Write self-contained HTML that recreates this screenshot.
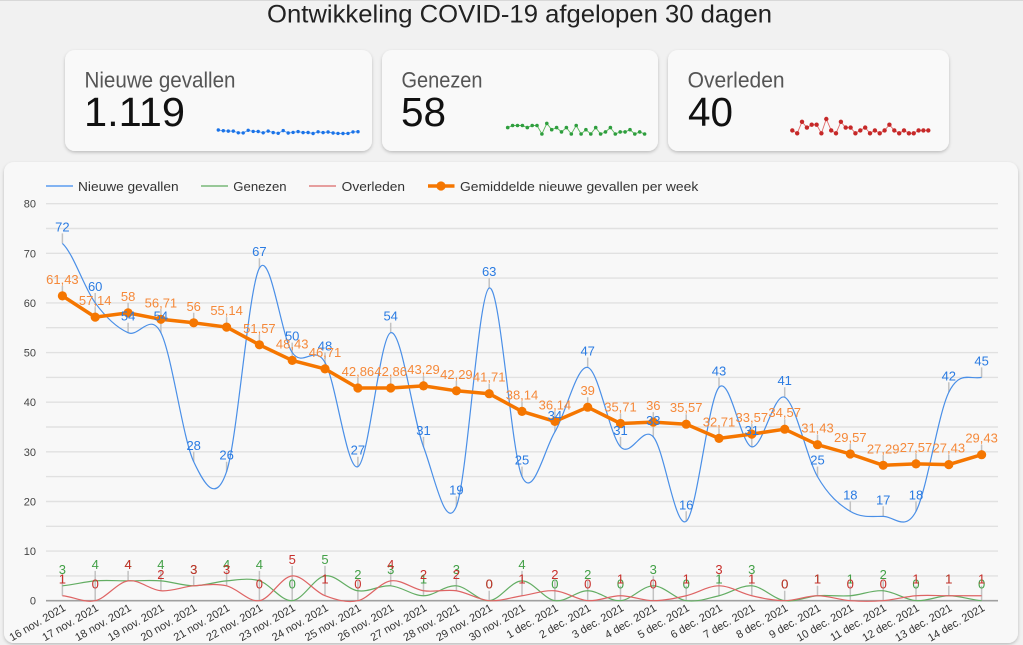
<!DOCTYPE html>
<html><head><meta charset="utf-8"><style>
html,body{margin:0;padding:0;background:#f1f1f1;}
svg{display:block;font-family:"Liberation Sans",sans-serif;}
</style></head><body>
<svg width="1023" height="645" viewBox="0 0 1023 645" xmlns="http://www.w3.org/2000/svg">
<defs>
<filter id="sh" x="-5%" y="-10%" width="110%" height="125%"><feDropShadow dx="0" dy="1.5" stdDeviation="1.5" flood-color="#000" flood-opacity="0.22"/></filter>
<marker id="mb" viewBox="-3 -3 6 6" markerWidth="6" markerHeight="6" markerUnits="userSpaceOnUse"><circle r="1.7" fill="#1a73e8"/></marker>
<marker id="mg" viewBox="-3 -3 6 6" markerWidth="6" markerHeight="6" markerUnits="userSpaceOnUse"><circle r="1.8" fill="#2e9e3e"/></marker>
<marker id="mr" viewBox="-3 -3 6 6" markerWidth="6" markerHeight="6" markerUnits="userSpaceOnUse"><circle r="2.2" fill="#c62828"/></marker>
<marker id="mo" viewBox="-6 -6 12 12" markerWidth="12" markerHeight="12" markerUnits="userSpaceOnUse"><circle r="4.6" fill="#f57600"/></marker>
</defs>
<rect x="0" y="0" width="1023" height="645" fill="#f1f1f1"/>
<rect x="0" y="0" width="1023" height="1" fill="#d8d8d8"/>

<text x="519.5" y="22.3" text-anchor="middle" font-size="25" fill="#222" textLength="505" lengthAdjust="spacingAndGlyphs">Ontwikkeling COVID-19 afgelopen 30 dagen</text>

<!-- cards -->
<rect x="65" y="50" width="307" height="101" rx="10" fill="#f9f9f9" filter="url(#sh)"/>
<rect x="382" y="50" width="276" height="101" rx="10" fill="#f9f9f9" filter="url(#sh)"/>
<rect x="668" y="50" width="281" height="101" rx="10" fill="#f9f9f9" filter="url(#sh)"/>

<text x="84.5" y="87.3" font-size="22" fill="#555" textLength="151" lengthAdjust="spacingAndGlyphs">Nieuwe gevallen</text>
<text x="84" y="126" font-size="41" fill="#111" textLength="101" lengthAdjust="spacingAndGlyphs">1.119</text>
<text x="401.5" y="87.3" font-size="22" fill="#555" textLength="81" lengthAdjust="spacingAndGlyphs">Genezen</text>
<text x="401" y="126" font-size="41" fill="#111" textLength="45" lengthAdjust="spacingAndGlyphs">58</text>
<text x="687.6" y="87.3" font-size="22" fill="#555" textLength="97" lengthAdjust="spacingAndGlyphs">Overleden</text>
<text x="688" y="126" font-size="41" fill="#111" textLength="45" lengthAdjust="spacingAndGlyphs">40</text>

<!-- sparklines -->
<polyline fill="none" stroke="#5a9cf0" stroke-width="0.9" marker-start="url(#mb)" marker-mid="url(#mb)" marker-end="url(#mb)" points="218.3,130.0 223.3,130.76 228.3,131.13 233.3,131.13 238.3,132.77 243.2,132.9 248.2,130.3 253.2,131.4 258.2,131.5 263.2,132.8 268.2,131.1 273.2,132.6 278.2,133.3 283.2,130.6 288.2,133.0 293.1,132.4 298.1,131.6 303.1,132.6 308.1,132.5 313.1,133.5 318.1,131.8 323.1,132.6 328.1,132.0 333.1,133.0 338.0,133.4 343.0,133.5 348.0,133.4 353.0,131.9 358.0,131.7"/>
<polyline fill="none" stroke="#5cb85c" stroke-width="0.9" marker-start="url(#mg)" marker-mid="url(#mg)" marker-end="url(#mg)" points="507.7,127.6 512.6,125.5 517.5,125.5 522.4,125.5 527.3,127.6 532.2,125.5 537.0,125.5 541.9,134 546.8,123.4 551.7,129.7 556.6,127.6 561.5,131.9 566.4,127.6 571.3,134 576.2,125.5 581.1,134 585.9,129.7 590.8,134 595.7,127.6 600.6,134 605.5,131.9 610.4,127.6 615.3,134 620.2,131.9 625.1,131.9 630.0,129.7 634.8,134 639.7,131.9 644.6,134"/>
<polyline fill="none" stroke="#e06a6a" stroke-width="0.9" marker-start="url(#mr)" marker-mid="url(#mr)" marker-end="url(#mr)" points="792.3,130.4 797.2,133.3 802.0,121.8 806.9,127.6 811.7,124.7 816.6,124.7 821.4,133.3 826.3,119.0 831.2,130.4 836.0,133.3 840.9,121.8 845.7,127.6 850.6,127.6 855.4,133.3 860.3,130.4 865.2,127.6 870.0,133.3 874.9,130.4 879.7,133.3 884.6,130.4 889.4,124.7 894.3,130.4 899.2,133.3 904.0,130.4 908.9,133.3 913.7,133.3 918.6,130.4 923.4,130.4 928.3,130.4"/>

<!-- chart card -->
<rect x="4" y="162" width="1014" height="481" rx="10" fill="#f8f8f8" filter="url(#sh)"/>

<!-- legend -->
<g font-size="13" fill="#333">
<line x1="46" y1="186" x2="73" y2="186" stroke="#5a9cf0" stroke-width="1.5"/>
<text x="78" y="191" textLength="100.6" lengthAdjust="spacingAndGlyphs">Nieuwe gevallen</text>
<line x1="201" y1="186" x2="228" y2="186" stroke="#79b879" stroke-width="1.5"/>
<text x="233.3" y="191" textLength="53.3" lengthAdjust="spacingAndGlyphs">Genezen</text>
<line x1="309" y1="186" x2="336" y2="186" stroke="#e08080" stroke-width="1.5"/>
<text x="341.7" y="191" textLength="63.3" lengthAdjust="spacingAndGlyphs">Overleden</text>
<line x1="428" y1="186" x2="454.5" y2="186" stroke="#f57600" stroke-width="3.5"/>
<circle cx="441" cy="186" r="4.6" fill="#f57600"/>
<text x="460" y="191" textLength="238.3" lengthAdjust="spacingAndGlyphs">Gemiddelde nieuwe gevallen per week</text>
</g>

<!-- grid -->
<path fill="none" stroke="#e1e1e1" stroke-width="1.4" d="M46,575.9H998 M46,551.1H998 M46,526.3H998 M46,501.5H998 M46,476.6H998 M46,451.8H998 M46,427H998 M46,402.2H998 M46,377.4H998 M46,352.6H998 M46,327.7H998 M46,302.9H998 M46,278.1H998 M46,253.3H998 M46,228.5H998 M46,203.7H998"/>

<!-- y labels -->
<g font-size="11" fill="#444" text-anchor="end">
<text x="36" y="604.7">0</text><text x="36" y="555.1">10</text><text x="36" y="505.5">20</text><text x="36" y="455.8">30</text><text x="36" y="406.2">40</text><text x="36" y="356.6">50</text><text x="36" y="306.9">60</text><text x="36" y="257.3">70</text><text x="36" y="207.7">80</text>
</g>

<!-- leader lines -->
<path fill="none" stroke="#c2c2c2" stroke-width="1.5" d="M62.4,233.4V243.4 M95.2,293V303 M128.1,322.7V332.7 M160.9,322.7V332.7 M193.7,451.8V461.8 M226.6,461.7V471.7 M259.4,258.2V268.2 M292.2,342.6V352.6 M325,352.5V362.5 M357.9,456.7V466.7 M390.7,322.7V332.7 M423.5,436.9V446.9 M456.4,496.4V506.4 M489.2,278.1V288.1 M522,466.6V476.6 M554.9,422V432 M587.7,357.5V367.5 M620.5,436.9V446.9 M653.3,426.9V436.9 M686.2,511.3V521.3 M719,377.3V387.3 M751.8,436.9V446.9 M784.7,387.2V397.2 M817.5,466.6V476.6 M850.3,501.4V511.4 M883.2,506.3V516.3 M916,501.4V511.4 M948.8,382.3V392.3 M981.6,367.4V377.4
M62.4,285.9V291.9 M95.2,307.1V313.1 M128.1,302.9V308.9 M160.9,309.3V315.3 M193.7,312.8V318.8 M226.6,317.1V323.1 M259.4,334.8V340.8 M292.2,350.4V356.4 M325,358.9V364.9 M357.9,378V384 M390.7,378V384 M423.5,375.9V381.9 M456.4,380.8V386.8 M489.2,383.7V389.7 M522,401.4V407.4 M554.9,411.4V417.4 M587.7,397.2V403.2 M620.5,413.5V419.5 M653.3,412.1V418.1 M686.2,414.2V420.2 M719,428.4V434.4 M751.8,424.1V430.1 M784.7,419.2V425.2 M817.5,434.7V440.7 M850.3,444V450 M883.2,455.3V461.3 M916,453.9V459.9 M948.8,454.6V460.6 M981.6,444.7V450.7
M62.4,575.8V595.7 M95.2,570.9V600.7 M128.1,570.9V580.9 M160.9,570.9V590.8 M193.7,575.8V585.8 M226.6,570.9V585.8 M259.4,570.9V600.7 M292.2,565.9V600.7 M325,565.9V595.7 M357.9,580.8V600.7 M390.7,570.9V585.8 M423.5,580.8V595.7 M456.4,575.8V590.8 M489.2,590.7V600.7 M522,570.9V595.7 M554.9,580.8V600.7 M587.7,580.8V600.7 M620.5,585.7V600.7 M653.3,575.8V600.7 M686.2,585.7V600.7 M719,575.8V595.7 M751.8,575.8V595.7 M784.7,590.7V600.7 M817.5,585.7V595.7 M850.3,585.7V600.7 M883.2,580.8V600.7 M916,585.7V600.7 M948.8,585.7V595.7 M981.6,585.7V600.7"/>

<!-- zero axis -->
<line x1="46" y1="600.7" x2="998" y2="600.7" stroke="#a0a0a0" stroke-width="1.6"/>

<!-- series curves -->
<g transform="matrix(32.83,0,0,-4.9625,62.4,600.7)" fill="none">
<path vector-effect="non-scaling-stroke" stroke="#4a8fe7" stroke-width="1.2" d="M0,72 C0.333,70 0.667,63 1,60 S1.667,55 2,54 S2.667,58.333 3,54 S3.667,32.667 4,28 S4.667,19.5 5,26 S5.667,63 6,67 S6.667,53.167 7,50 S7.667,51.833 8,48 S8.667,26 9,27 S9.667,53.333 10,54 S10.667,36.833 11,31 S11.667,13.667 12,19 S12.667,62 13,63 S13.667,29.833 14,25 S14.667,30.333 15,34 S15.667,47.5 16,47 S16.667,33.333 17,31 S17.667,35.5 18,33 S18.667,14.333 19,16 S19.667,40.5 20,43 S20.667,31.333 21,31 S21.667,42 22,41 S22.667,28.833 23,25 S23.667,19.333 24,18 S24.667,17 25,17 S25.667,13.833 26,18 S26.667,37.5 27,42 S27.667,44.5 28,45"/>
<path vector-effect="non-scaling-stroke" stroke="#63ad63" stroke-width="1.2" d="M0,3 C0.333,3.167 0.667,3.833 1,4 S1.667,4 2,4 S2.667,4.167 3,4 S3.667,3 4,3 S4.667,3.833 5,4 S5.667,4.667 6,4 S6.667,-0.167 7,0 S7.667,4.667 8,5 S8.667,2.333 9,2 S9.667,3.167 10,3 S10.667,1 11,1 S11.667,3.167 12,3 S12.667,-0.167 13,0 S13.667,4 14,4 S14.667,0.333 15,0 S15.667,2 16,2 S16.667,-0.167 17,0 S17.667,3 18,3 S18.667,0.333 19,0 S19.667,0.5 20,1 S20.667,3.167 21,3 S21.667,0.333 22,0 S22.667,0.833 23,1 S23.667,0.833 24,1 S24.667,2.167 25,2 S25.667,0.167 26,0 S26.667,1 27,1 S27.667,0.167 28,0"/>
<path vector-effect="non-scaling-stroke" stroke="#de6464" stroke-width="1.2" d="M0,1 C0.333,0.833 0.667,-0.5 1,0 S1.667,3.667 2,4 S2.667,2.167 3,2 S3.667,2.833 4,3 S4.667,3.5 5,3 S5.667,-0.333 6,0 S6.667,4.833 7,5 S7.667,1.833 8,1 S8.667,-0.5 9,0 S9.667,3.667 10,4 S10.667,2.333 11,2 S11.667,2.333 12,2 S12.667,0.167 13,0 S13.667,0.667 14,1 S14.667,2.167 15,2 S15.667,0.167 16,0 S16.667,1 17,1 S17.667,0 18,0 S18.667,0.5 19,1 S19.667,3 20,3 S20.667,1.5 21,1 S21.667,0 22,0 S22.667,1 23,1 S23.667,0.167 24,0 S24.667,-0.167 25,0 S25.667,0.833 26,1 S26.667,1 27,1 S27.667,1 28,1"/>
</g>

<!-- orange average -->
<polyline fill="none" stroke="#f57600" stroke-width="3.5" stroke-linejoin="round" marker-start="url(#mo)" marker-mid="url(#mo)" marker-end="url(#mo)" points="62.4,295.9 95.2,317.1 128.1,312.9 160.9,319.3 193.7,322.8 226.6,327.1 259.4,344.8 292.2,360.4 325.0,368.9 357.9,388.0 390.7,388.0 423.5,385.9 456.4,390.8 489.2,393.7 522.0,411.4 554.9,421.4 587.7,407.2 620.5,423.5 653.3,422.1 686.2,424.2 719.0,438.4 751.8,434.1 784.7,429.2 817.5,444.7 850.3,454.0 883.2,465.3 916.0,463.9 948.8,464.6 981.6,454.7"/>

<!-- blue labels -->
<g font-size="13" text-anchor="middle" fill="#2a7be2">
<text x="62.4" y="231.4">72</text><text x="95.2" y="291">60</text><text x="128.1" y="320.7">54</text><text x="160.9" y="320.7">54</text><text x="193.7" y="449.8">28</text><text x="226.6" y="459.7">26</text><text x="259.4" y="256.2">67</text><text x="292.2" y="340.6">50</text><text x="325" y="350.5">48</text><text x="357.9" y="454.7">27</text><text x="390.7" y="320.7">54</text><text x="423.5" y="434.9">31</text><text x="456.4" y="494.4">19</text><text x="489.2" y="276.1">63</text><text x="522" y="464.6">25</text><text x="554.9" y="420">34</text><text x="587.7" y="355.5">47</text><text x="620.5" y="434.9">31</text><text x="653.3" y="424.9">33</text><text x="686.2" y="509.3">16</text><text x="719" y="375.3">43</text><text x="751.8" y="434.9">31</text><text x="784.7" y="385.2">41</text><text x="817.5" y="464.6">25</text><text x="850.3" y="499.4">18</text><text x="883.2" y="504.3">17</text><text x="916" y="499.4">18</text><text x="948.8" y="380.3">42</text><text x="981.6" y="365.4">45</text>
</g>

<!-- orange labels -->
<g font-size="13" text-anchor="middle" fill="#f5893a">
<text x="62.4" y="283.9">61,43</text><text x="95.2" y="305.1">57,14</text><text x="128.1" y="300.9">58</text><text x="160.9" y="307.3">56,71</text><text x="193.7" y="310.8">56</text><text x="226.6" y="315.1">55,14</text><text x="259.4" y="332.8">51,57</text><text x="292.2" y="348.4">48,43</text><text x="325" y="356.9">46,71</text><text x="357.9" y="376">42,86</text><text x="390.7" y="376">42,86</text><text x="423.5" y="373.9">43,29</text><text x="456.4" y="378.8">42,29</text><text x="489.2" y="381.7">41,71</text><text x="522" y="399.4">38,14</text><text x="554.9" y="409.4">36,14</text><text x="587.7" y="395.2">39</text><text x="620.5" y="411.5">35,71</text><text x="653.3" y="410.1">36</text><text x="686.2" y="412.2">35,57</text><text x="719" y="426.4">32,71</text><text x="751.8" y="422.1">33,57</text><text x="784.7" y="417.2">34,57</text><text x="817.5" y="432.7">31,43</text><text x="850.3" y="442">29,57</text><text x="883.2" y="453.3">27,29</text><text x="916" y="451.9">27,57</text><text x="948.8" y="452.6">27,43</text><text x="981.6" y="442.7">29,43</text>
</g>

<!-- green labels -->
<g font-size="13" text-anchor="middle" fill="#43a047">
<text x="62.4" y="573.8">3</text><text x="95.2" y="568.9">4</text><text x="128.1" y="568.9">4</text><text x="160.9" y="568.9">4</text><text x="193.7" y="573.8">3</text><text x="226.6" y="568.9">4</text><text x="259.4" y="568.9">4</text><text x="292.2" y="588.7">0</text><text x="325" y="563.9">5</text><text x="357.9" y="578.8">2</text><text x="390.7" y="573.8">3</text><text x="423.5" y="583.7">1</text><text x="456.4" y="573.8">3</text><text x="489.2" y="588.7">0</text><text x="522" y="568.9">4</text><text x="554.9" y="588.7">0</text><text x="587.7" y="578.8">2</text><text x="620.5" y="588.7">0</text><text x="653.3" y="573.8">3</text><text x="686.2" y="588.7">0</text><text x="719" y="583.7">1</text><text x="751.8" y="573.8">3</text><text x="784.7" y="588.7">0</text><text x="817.5" y="583.7">1</text><text x="850.3" y="583.7">1</text><text x="883.2" y="578.8">2</text><text x="916" y="588.7">0</text><text x="948.8" y="583.7">1</text><text x="981.6" y="588.7">0</text>
</g>

<!-- red labels -->
<g font-size="13" text-anchor="middle" fill="#c8302c">
<text x="62.4" y="583.7">1</text><text x="95.2" y="588.7">0</text><text x="128.1" y="568.9">4</text><text x="160.9" y="578.8">2</text><text x="193.7" y="573.8">3</text><text x="226.6" y="573.8">3</text><text x="259.4" y="588.7">0</text><text x="292.2" y="563.9">5</text><text x="325" y="583.7">1</text><text x="357.9" y="588.7">0</text><text x="390.7" y="568.9">4</text><text x="423.5" y="578.8">2</text><text x="456.4" y="578.8">2</text><text x="489.2" y="588.7">0</text><text x="522" y="583.7">1</text><text x="554.9" y="578.8">2</text><text x="587.7" y="588.7">0</text><text x="620.5" y="583.7">1</text><text x="653.3" y="588.7">0</text><text x="686.2" y="583.7">1</text><text x="719" y="573.8">3</text><text x="751.8" y="583.7">1</text><text x="784.7" y="588.7">0</text><text x="817.5" y="583.7">1</text><text x="850.3" y="588.7">0</text><text x="883.2" y="588.7">0</text><text x="916" y="583.7">1</text><text x="948.8" y="583.7">1</text><text x="981.6" y="583.7">1</text>
</g>

<!-- x labels -->
<g font-size="11" fill="#333" text-anchor="end">
<text transform="translate(66.4,610) rotate(-30)">16 nov. 2021</text>
<text transform="translate(99.2,610) rotate(-30)">17 nov. 2021</text>
<text transform="translate(132.1,610) rotate(-30)">18 nov. 2021</text>
<text transform="translate(164.9,610) rotate(-30)">19 nov. 2021</text>
<text transform="translate(197.7,610) rotate(-30)">20 nov. 2021</text>
<text transform="translate(230.6,610) rotate(-30)">21 nov. 2021</text>
<text transform="translate(263.4,610) rotate(-30)">22 nov. 2021</text>
<text transform="translate(296.2,610) rotate(-30)">23 nov. 2021</text>
<text transform="translate(329,610) rotate(-30)">24 nov. 2021</text>
<text transform="translate(361.9,610) rotate(-30)">25 nov. 2021</text>
<text transform="translate(394.7,610) rotate(-30)">26 nov. 2021</text>
<text transform="translate(427.5,610) rotate(-30)">27 nov. 2021</text>
<text transform="translate(460.4,610) rotate(-30)">28 nov. 2021</text>
<text transform="translate(493.2,610) rotate(-30)">29 nov. 2021</text>
<text transform="translate(526,610) rotate(-30)">30 nov. 2021</text>
<text transform="translate(558.9,610) rotate(-30)">1 dec. 2021</text>
<text transform="translate(591.7,610) rotate(-30)">2 dec. 2021</text>
<text transform="translate(624.5,610) rotate(-30)">3 dec. 2021</text>
<text transform="translate(657.3,610) rotate(-30)">4 dec. 2021</text>
<text transform="translate(690.2,610) rotate(-30)">5 dec. 2021</text>
<text transform="translate(723,610) rotate(-30)">6 dec. 2021</text>
<text transform="translate(755.8,610) rotate(-30)">7 dec. 2021</text>
<text transform="translate(788.7,610) rotate(-30)">8 dec. 2021</text>
<text transform="translate(821.5,610) rotate(-30)">9 dec. 2021</text>
<text transform="translate(854.3,610) rotate(-30)">10 dec. 2021</text>
<text transform="translate(887.2,610) rotate(-30)">11 dec. 2021</text>
<text transform="translate(920,610) rotate(-30)">12 dec. 2021</text>
<text transform="translate(952.8,610) rotate(-30)">13 dec. 2021</text>
<text transform="translate(985.6,610) rotate(-30)">14 dec. 2021</text>
</g>
</svg>
</body></html>
